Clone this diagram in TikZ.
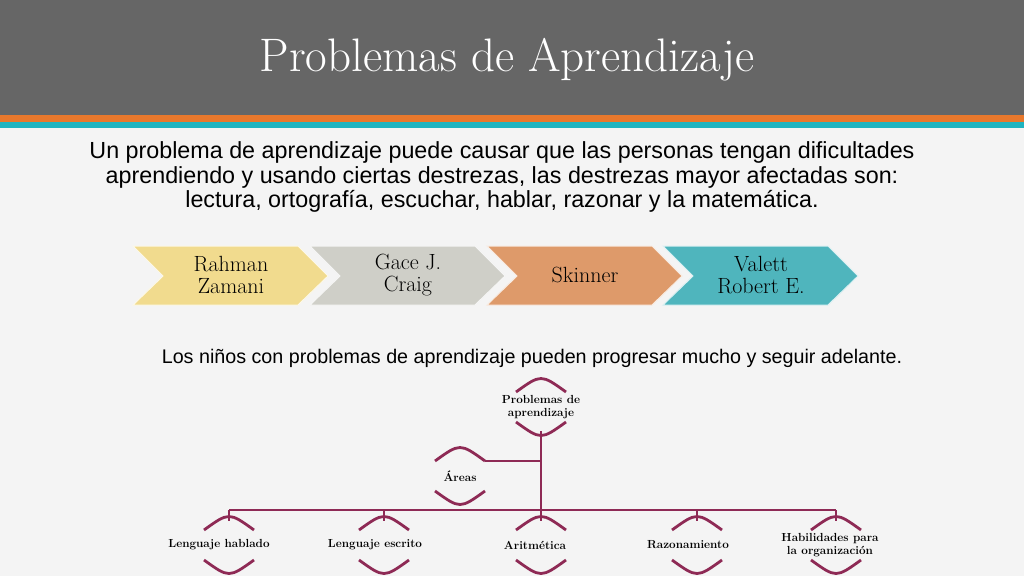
\documentclass[tikz,border=0pt]{standalone}
\usepackage{fontspec}
\newfontfamily\arial{Liberation Sans}
\begin{document}
\begin{tikzpicture}[x=1pt,y=-1pt,
  tree/.style={draw=treec,line width=2.8pt},
  lbl/.style={font=\fontsize{11.7}{13.5}\selectfont\bfseries,align=center,inner sep=0},
  chev/.style={font=\fontsize{22}{22}\selectfont,align=center}]
\definecolor{treec}{HTML}{8E2A55}
\definecolor{bg}{HTML}{F4F4F4}
\definecolor{org}{HTML}{E8782C}
\definecolor{tl}{HTML}{1FB4C0}
\useasboundingbox (0,0) rectangle (1024,576);
\fill[bg] (0,0) rectangle (1024,576);
\fill[black!60] (0,0) rectangle (1024,115);
\fill[org] (0,115) rectangle (1024,122);
\fill[tl] (0,122) rectangle (1024,128);
\node[white,font=\fontsize{47}{50}\selectfont] (title) at (507,60) {Problemas de Aprendizaje};
\node[font=\arial\fontsize{23.3}{24.5}\selectfont,align=center] (intro) at (502,177)
 {Un problema de aprendizaje puede causar que las personas tengan dificultades\\
  aprendiendo y usando ciertas destrezas, las destrezas mayor afectadas son:\\
  lectura, ortografía, escuchar, hablar, razonar y la matemática.};
% chevrons
\foreach \x/\c/\t in {133/F1DB8E/{Rahman\\Zamani},310/CFCFC8/{Gace J.\\Craig},487/DE9A6A/Skinner,663/4FB5BD/{Valett\\Robert E.}}{
  \definecolor{cc}{HTML}{\c}
  \fill[cc,draw=white!80!cc,line width=1pt] (\x,246) -- (\x+165,246) -- (\x+195,276) -- (\x+165,305) -- (\x,305) -- (\x+30,276) -- cycle;
  \node[chev] at (\x+98,275) {\t};
}
\node[font=\arial\fontsize{19.7}{22}\selectfont] (kids) at (532,358) {Los niños con problemas de aprendizaje pueden progresar mucho y seguir adelante.};
% tree nodes
\node[lbl] (root) at (541,407) {Problemas de\\aprendizaje};
\node[lbl] (areas) at (460,476) {Áreas};
\node[lbl] (c1) at (219,545) {Lenguaje hablado};
\node[lbl] (c2) at (375,545) {Lenguaje escrito};
\node[lbl] (c3) at (535,545) {Aritmética};
\node[lbl] (c4) at (688,545) {Razonamiento};
\node[lbl] (c5) at (830,545) {Habilidades para\\la organización};
\foreach \cx/\cy in {541/407,460/476,229/545,384/545,541/545,697/545,836/545}{
  \draw[tree] (\cx-25,\cy-15) .. controls (\cx,\cy-33) .. (\cx+25,\cy-15);
  \draw[tree] (\cx-25,\cy+15) .. controls (\cx,\cy+33) .. (\cx+25,\cy+15);
}
\coordinate (rb) at (541,431);
\coordinate (j) at (541,510);
\coordinate (aj) at (541,461);
\coordinate (ae) at (485,461);
\draw[tree] (rb) -- (j);
\draw[tree] (ae) -- (aj);
\draw[tree] (229,510) -- (836,510);
\foreach \cx in {229,384,541,697,836}{\draw[tree] (\cx,510) -- (\cx,521);}
\end{tikzpicture}
\end{document}
